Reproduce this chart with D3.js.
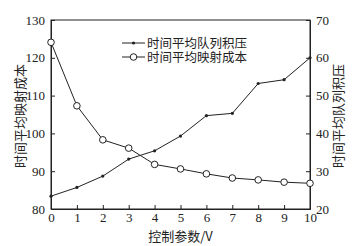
<!DOCTYPE html>
<html><head><meta charset="utf-8">
<script src="https://cdn.jsdelivr.net/npm/d3@7"></script>
<style>
html,body{margin:0;padding:0;background:#fff;}
text{font-family:"Liberation Serif","DejaVu Serif",serif;fill:#222;}
.cjk{font-family:"Noto Sans CJK SC","Noto Sans CJK JP",sans-serif;}
</style></head><body>
<svg id="c" width="361" height="246"></svg>
<script>
const categories = [0,1,2,3,4,5,6,7,8,9,10];
const queueValues = [23.4,25.7,28.7,33.2,35.4,39.3,44.7,45.3,53.2,54.2,60.0];
const costValues = [124.1,107.3,98.3,96.1,91.8,90.6,89.3,88.2,87.7,87.1,86.8];
const leftTicks = [80,90,100,110,120,130];
const rightTicks = [20,30,40,50,60,70];
const xTicks = [0,1,2,3,4,5,6,7,8,9,10];
const seriesNames = ["时间平均队列积压","时间平均映射成本"];
const xTitle = "控制参数/V";
const leftTitle = "时间平均映射成本";
const rightTitle = "时间平均队列积压";

const svg = d3.select("#c");
const L=51, R=310, T=20, B=209;
const x = d3.scaleLinear().domain([0,10]).range([L,R]);
const yL = d3.scaleLinear().domain([80,130]).range([B,T]);
const yR = d3.scaleLinear().domain([20,70]).range([B,T]);
const col="#222";

svg.append("rect").attr("x",L).attr("y",T).attr("width",R-L).attr("height",B-T)
  .attr("fill","none").attr("stroke",col).attr("stroke-width",1);

const ax = svg.append("g").attr("transform",`translate(0,${B})`)
  .call(d3.axisBottom(x).tickValues(xTicks).tickSize(-4).tickPadding(4).tickFormat(d3.format("d")));
const al = svg.append("g").attr("transform",`translate(${L},0)`)
  .call(d3.axisLeft(yL).tickValues(leftTicks).tickSize(-4).tickPadding(6));
const ar = svg.append("g").attr("transform",`translate(${R},0)`)
  .call(d3.axisRight(yR).tickValues(rightTicks).tickSize(-4).tickPadding(6));
[ax,al,ar].forEach(g=>{
  g.select(".domain").attr("stroke",col);
  g.selectAll(".tick line").attr("stroke",col);
  g.selectAll(".tick text").attr("font-size",13).attr("font-family","Liberation Serif, serif").attr("fill","#222");
});
ax.selectAll(".tick text").attr("dy","0.71em");

const lineQ = d3.line().x((d,i)=>x(categories[i])).y(d=>yR(d));
const lineC = d3.line().x((d,i)=>x(categories[i])).y(d=>yL(d));
svg.append("path").datum(queueValues).attr("d",lineQ).attr("fill","none").attr("stroke",col).attr("stroke-width",1);
svg.append("path").datum(costValues).attr("d",lineC).attr("fill","none").attr("stroke",col).attr("stroke-width",1);
svg.selectAll(".qd").data(queueValues).enter().append("circle")
  .attr("cx",(d,i)=>x(categories[i])).attr("cy",d=>yR(d)).attr("r",1.6).attr("fill",col);
svg.selectAll(".cd").data(costValues).enter().append("circle")
  .attr("cx",(d,i)=>x(categories[i])).attr("cy",d=>yL(d)).attr("r",3.3).attr("fill","#fff").attr("stroke",col).attr("stroke-width",1);

const lg = svg.append("g");
seriesNames.forEach((n,i)=>{
  const yy = 43 + i*14;
  lg.append("line").attr("x1",122).attr("x2",145).attr("y1",yy).attr("y2",yy).attr("stroke",col).attr("stroke-width",1);
  if(i===0) lg.append("circle").attr("cx",133.5).attr("cy",yy).attr("r",1.6).attr("fill",col);
  else lg.append("circle").attr("cx",133.5).attr("cy",yy).attr("r",3.3).attr("fill","#fff").attr("stroke",col);
  lg.append("text").attr("class","cjk").attr("x",147).attr("y",yy).attr("dy","0.36em")
    .attr("font-size",12.5).text(n);
});

svg.append("text").attr("class","cjk").attr("font-size",13).attr("text-anchor","middle")
  .attr("transform",`translate(${(L+R)/2},${241})`).text(xTitle);
svg.append("text").attr("class","cjk").attr("font-size",13).attr("text-anchor","middle")
  .attr("transform",`translate(25,116) rotate(-90)`).text(leftTitle);
svg.append("text").attr("class","cjk").attr("font-size",13).attr("text-anchor","middle")
  .attr("transform",`translate(343,116) rotate(-90)`).text(rightTitle);
</script>
</body></html>
